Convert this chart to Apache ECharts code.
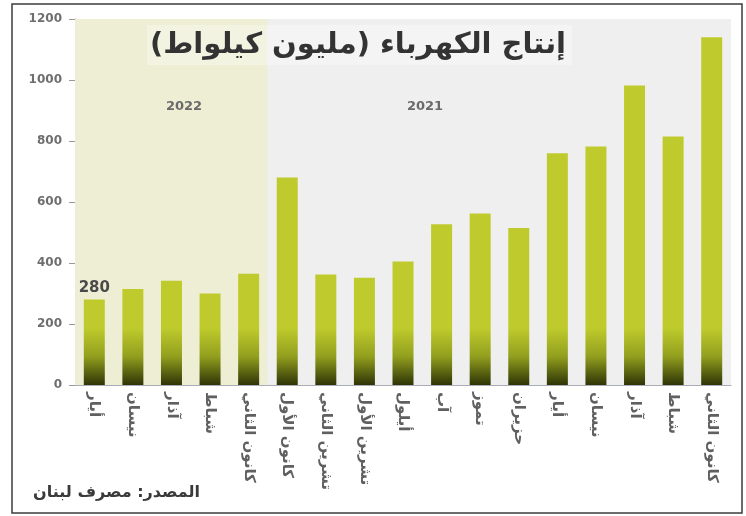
<!DOCTYPE html>
<html>
<head>
<meta charset="utf-8">
<script src="https://cdn.jsdelivr.net/npm/echarts@6/dist/echarts.min.js"></script>
<style>
  html, body { margin: 0; padding: 0; background: #ffffff; }
  #chart { width: 746px; height: 516px; }
</style>
</head>
<body>
<div id="chart" dir="rtl"></div>
<script>
// Monthly electricity production, newest month first
const months = ['أيار', 'نيسان', 'آذار', 'شباط', 'كانون الثاني',
  'كانون الأول', 'تشرين الثاني', 'تشرين الأول', 'أيلول', 'آب', 'تموز', 'حزيران',
  'أيار', 'نيسان', 'آذار', 'شباط', 'كانون الثاني'];
const years = [2022, 2022, 2022, 2022, 2022,
  2021, 2021, 2021, 2021, 2021, 2021, 2021, 2021, 2021, 2021, 2021, 2021];
const production = [280, 315, 342, 300, 365, 680, 362, 352, 405, 527, 562, 515, 760, 782, 982, 815, 1140];
const yTicks = [0, 200, 400, 600, 800, 1000, 1200];
const labelledIndex = 0;

const titleText = 'إنتاج الكهرباء (مليون كيلواط)';
const sourceText = 'المصدر: مصرف لبنان';

const arabicFont = '"DejaVu Sans", "Noto Sans", sans-serif';
const yearShade = { 2022: '#eeeed4', 2021: '#efefef' };
const yMax = yTicks[yTicks.length - 1];

const chart = echarts.init(document.getElementById('chart'), null, { renderer: 'canvas' });

// Dark shading toward the base of every bar, fixed to the plot's lower band
const barFill = new echarts.graphic.LinearGradient(0, 328, 0, 385, [
  { offset: 0, color: '#bfcb2c' },
  { offset: 0.5, color: '#929f1e' },
  { offset: 1, color: '#2e3406' }
], true);

chart.setOption({
  backgroundColor: '#ffffff',
  animation: false,
  grid: { left: 75, right: 15, top: 19, bottom: 131 },
  xAxis: [{
    type: 'category',
    data: months,
    boundaryGap: true,
    axisLine: { lineStyle: { color: '#a9adb8', width: 1 } },
    axisTick: { inside: true, length: 5, lineStyle: { color: '#b8bbc4' } },
    axisLabel: {
      rotate: -90,
      interval: 0,
      margin: 7,
      color: '#606060',
      fontSize: 15,
      fontWeight: 'bold',
      fontFamily: arabicFont
    }
  }, {
    type: 'category',
    data: months,
    show: false
  }],
  yAxis: {
    type: 'value',
    min: 0,
    max: yMax,
    interval: 200,
    axisLine: { show: true, lineStyle: { color: '#9a9a9a' } },
    axisTick: { show: true, length: 6, lineStyle: { color: '#9a9a9a' } },
    axisLabel: {
      margin: 13,
      color: '#6e6e6e',
      fontSize: 12,
      fontWeight: 'bold',
      fontFamily: '"DejaVu Sans", sans-serif',
      formatter: v => String(v)
    },
    splitLine: { show: true, lineStyle: { color: 'rgba(255,255,255,0.75)', width: 1 } }
  },
  series: [{
    // year shading behind the bars; slightly wider than a band so no seams show
    type: 'bar',
    xAxisIndex: 1,
    barWidth: 40,
    clip: true,
    silent: true,
    z: 0,
    data: years.map(y => ({ value: yMax, itemStyle: { color: yearShade[y] } }))
  }, {
    type: 'bar',
    xAxisIndex: 0,
    barWidth: 21,
    z: 2,
    itemStyle: { color: barFill },
    data: production.map((v, i) => i === labelledIndex ? {
      value: v,
      label: {
        show: true,
        position: 'top',
        distance: 4,
        color: '#4a4a4a',
        fontSize: 15,
        fontWeight: 'bold',
        fontFamily: '"DejaVu Sans", sans-serif'
      }
    } : v)
  }],
  graphic: [
    {
      type: 'rect', z: 10,
      shape: { x: 147, y: 25, width: 425, height: 40 },
      style: { fill: 'rgba(255,255,255,0.3)' }
    },
    {
      type: 'text', z: 11,
      x: 358, y: 45,
      style: {
        text: titleText,
        fontFamily: arabicFont,
        fontSize: 29,
        fontWeight: 'bold',
        fill: '#333333',
        align: 'center',
        verticalAlign: 'middle'
      }
    },
    {
      type: 'text', z: 11,
      x: 184, y: 107,
      style: { text: '2022', fontSize: 13, fontWeight: 'bold', fill: '#6a6a6a',
        fontFamily: '"DejaVu Sans", sans-serif', align: 'center', verticalAlign: 'middle' }
    },
    {
      type: 'text', z: 11,
      x: 425, y: 107,
      style: { text: '2021', fontSize: 13, fontWeight: 'bold', fill: '#6a6a6a',
        fontFamily: '"DejaVu Sans", sans-serif', align: 'center', verticalAlign: 'middle' }
    },
    {
      type: 'text', z: 11,
      x: 200, y: 493,
      style: {
        text: sourceText,
        fontFamily: arabicFont,
        fontSize: 16,
        fontWeight: 'bold',
        fill: '#3a3a3a',
        align: 'right',
        verticalAlign: 'middle'
      }
    },
    {
      type: 'rect', z: 12,
      shape: { x: 12, y: 4, width: 730, height: 509 },
      style: { fill: 'none', stroke: '#3c3c3c', lineWidth: 1.5 }
    }
  ]
});
</script>
</body>
</html>
